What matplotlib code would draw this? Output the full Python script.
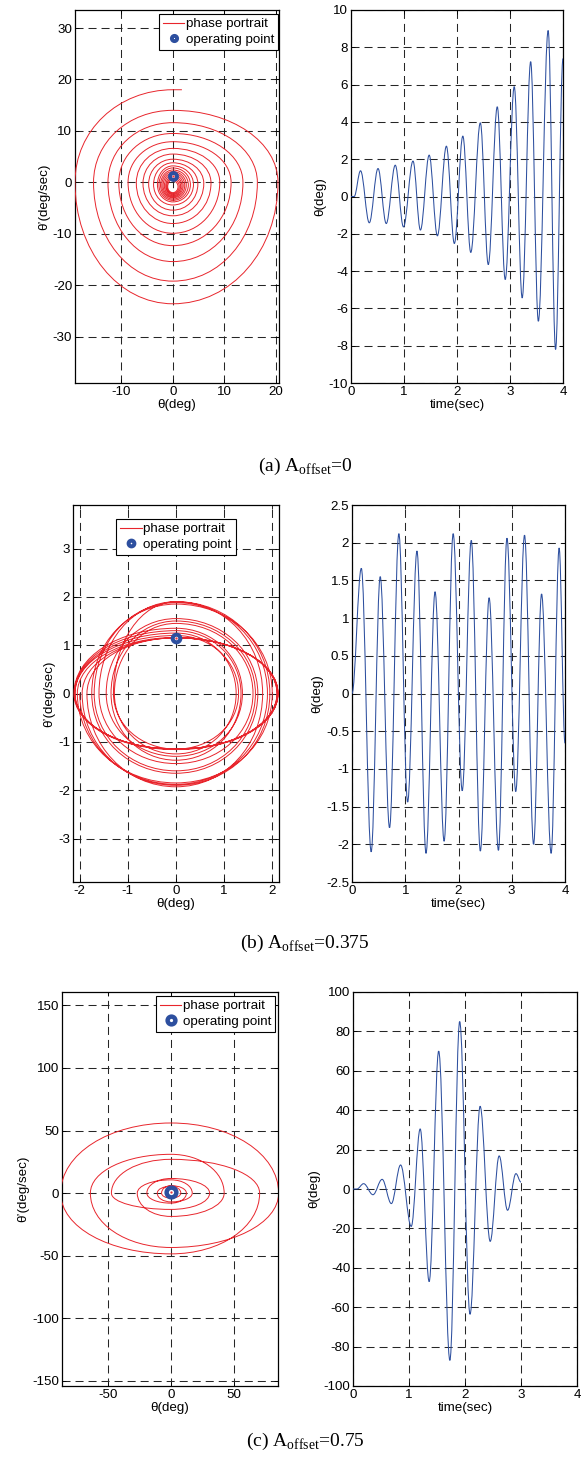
import numpy as np
import matplotlib.pyplot as plt
from matplotlib.path import Path
from matplotlib.patches import PathPatch
from matplotlib.lines import Line2D
from matplotlib.ticker import FuncFormatter, MultipleLocator

plt.rcParams['font.family'] = ['Liberation Sans', 'DejaVu Sans']
plt.rcParams['font.size'] = 9.6

RED = '#e8252c'
BLUE = '#2d4f9f'

# ============================================================
# Data
# ============================================================

# operating point (theta, theta')
OP_POINT = (0.0, 1.15)

# (a) A_offset = 0 : phase portrait loops, inner -> outer
A_TOP = [0.3, 0.6, 0.9, 1.2, 1.5, 1.8, 2.1, 2.4, 2.8, 3.2, 3.8, 4.5, 5.5, 6.6, 7.9, 9.5, 11.6, 14.0]
A_RIGHT = [1.0, 1.25, 1.5, 1.75, 2.0, 2.3, 2.6, 3.0, 3.4, 4.0, 4.85, 6.0, 7.4, 9.1, 11.3, 13.6, 16.4, 20.4]
A_BOTTOM = [-2.0, -2.2, -2.4, -2.6, -2.8, -3.0, -3.25, -3.5, -3.8, -4.4, -5.4, -6.5, -8.0, -9.9, -12.3, -15.4, -19.2, -23.6]
A_LEFT = [-1.0, -1.2, -1.4, -1.65, -1.9, -2.15, -2.4, -2.7, -3.0, -3.75, -4.7, -5.8, -7.1, -8.7, -10.5, -12.6, -15.4, -19.0]
A_MID = [-0.85, -0.8, -0.75, -0.7, -0.65, -0.6, -0.55, -0.5, -0.45, -0.4, -0.3, -0.2, -0.1, 0, 0, 0, 0, 0]
A_END_TOP = 18.0
A_END_X = 1.75

# (a) time response: extrema
A_T = [0, 0.06, 0.18, 0.345, 0.51, 0.665, 0.835, 0.99, 1.17, 1.31, 1.475, 1.63, 1.80, 1.95,
       2.11, 2.26, 2.44, 2.59, 2.76, 2.91, 3.08, 3.23, 3.39, 3.535, 3.72, 3.86, 4.0]
A_THETA = [0, 0, 1.38, -1.41, 1.5, -1.45, 1.68, -1.63, 1.9, -1.8, 2.22, -2.11, 2.7, -2.52,
           3.24, -3.0, 3.95, -3.65, 4.81, -4.45, 5.89, -5.44, 7.23, -6.69, 8.9, -8.2, 7.4]

# (b) A_offset = 0.375 : phase portrait loops
B_TOP = [1.15, 1.2, 1.9, 1.15, 1.35, 1.55, 1.85, 1.16, 1.25, 1.45, 1.9, 1.15, 1.3, 1.5, 1.88]
B_RIGHT = [2.1, 1.3, 1.95, 2.12, 1.38, 1.7, 2.0, 2.1, 1.25, 1.6, 1.8, 2.12, 1.35, 1.65, 1.9]
B_BOTTOM = [-1.15, -1.15, -1.9, -1.16, -1.3, -1.65, -1.85, -1.15, -1.25, -1.45, -1.93, -1.15, -1.38, -1.6, -1.88]
B_LEFT = [-2.1, -1.3, -1.95, -2.12, -1.45, -1.75, -2.05, -2.1, -1.28, -1.6, -1.85, -2.11, -1.35, -1.7, -2.0]

# (b) time response: extrema
B_T = [0, 0.175, 0.36, 0.53, 0.705, 0.88, 1.045, 1.22, 1.39, 1.56, 1.73, 1.90, 2.07,
       2.24, 2.41, 2.575, 2.75, 2.91, 3.075, 3.24, 3.41, 3.56, 3.74, 3.89, 4.0]
B_THETA = [0, 1.66, -2.1, 1.55, -1.78, 2.12, -1.44, 1.89, -2.12, 1.35, -1.96, 2.12, -1.29,
           2.03, -2.09, 1.27, -2.08, 2.06, -1.3, 2.10, -2.0, 1.32, -2.12, 1.93, -0.66]

# (c) A_offset = 0.75 : phase portrait, theta extremes and rate extremes in between
C_THETA_EXT = [2.7, -2.9, 4.9, -7.4, 12.2, -19, 30.5, -47, 70, -87, 85, -63.6, 42, -26.6, 16.8, -10.8, 7.8]
C_RATE_EXT = [1.5, -2.5, 3, -4, 6, -8, 11.7, -13, 27, -48.5, 56, -43.4, 31, -18.6, 10.6, -7, 5.5, -4]

# (c) time response: extrema
C_T = [0, 0.07, 0.19, 0.357, 0.52, 0.685, 0.85, 1.04, 1.2, 1.36, 1.53, 1.73, 1.905,
       2.09, 2.27, 2.45, 2.61, 2.76, 2.91, 3.0]
C_THETA = [0, 0, 2.7, -2.9, 4.9, -7.4, 12.2, -19, 30.5, -47, 70, -87, 85,
           -63.6, 42, -26.6, 16.8, -10.8, 7.8, 3.5]

CAPTIONS = [r'(a) A$_{\mathregular{offset}}$=0',
            r'(b) A$_{\mathregular{offset}}$=0.375',
            r'(c) A$_{\mathregular{offset}}$=0.75']


# ============================================================
# Helpers
# ============================================================

K_ARC = 0.56     # bezier handle for quarter ellipse arcs
K_WAVE = 0.363   # bezier handle for half sine waves


def phase_path(xs, ys, on_x):
    # on_x: vertex is a theta-extreme (vertical tangent), else rate-extreme
    verts = [(xs[0], ys[0])]
    codes = [Path.MOVETO]
    for i in range(1, len(xs)):
        x0, y0, x1, y1 = xs[i - 1], ys[i - 1], xs[i], ys[i]
        c1 = (x0, y0 + K_ARC * (y1 - y0)) if on_x[i - 1] else (x0 + K_ARC * (x1 - x0), y0)
        c2 = (x1, y1 + K_ARC * (y0 - y1)) if on_x[i] else (x1 + K_ARC * (x0 - x1), y1)
        verts += [c1, c2, (x1, y1)]
        codes += [Path.CURVE4] * 3
    return verts, codes


def loops_to_vertices(tops, rights, bottoms, lefts, mids=None):
    xs, ys, on_x = [], [], []
    for k in range(len(tops)):
        m = 0.0 if mids is None else mids[k]
        xs += [0.0, rights[k], 0.0, lefts[k]]
        ys += [tops[k], m, bottoms[k], m]
        on_x += [False, True, False, True]
    return xs, ys, on_x


def wave_path(ts, vs):
    verts = [(ts[0], vs[0])]
    codes = [Path.MOVETO]
    for i in range(1, len(ts)):
        dt = ts[i] - ts[i - 1]
        verts += [(ts[i - 1] + K_WAVE * dt, vs[i - 1]), (ts[i] - K_WAVE * dt, vs[i]), (ts[i], vs[i])]
        codes += [Path.CURVE4] * 3
    return Path(verts, codes)


def style_axes(ax):
    ax.grid(True, linestyle=(0, (7.7, 4.8)), color='0.15', linewidth=0.75)
    ax.set_axisbelow(True)
    ax.tick_params(direction='in', length=3, width=0.6, pad=2, top=True, right=True)
    ax.yaxis.set_major_formatter(FuncFormatter(lambda v, p: '%g' % v))
    ax.xaxis.set_major_formatter(FuncFormatter(lambda v, p: '%g' % v))
    for s in ax.spines.values():
        s.set_linewidth(0.9)


def draw_phase(ax, path, ms, mew, legend_loc, anchor, mscale):
    ax.add_patch(PathPatch(path, facecolor='none', edgecolor=RED, linewidth=0.7, zorder=3))
    op, = ax.plot([OP_POINT[0]], [OP_POINT[1]], 'o', ms=ms, mfc='white', mec=BLUE, mew=mew, zorder=4)
    ax.plot([OP_POINT[0]], [OP_POINT[1]], '.', ms=1.2, color=RED, zorder=5)
    handles = [Line2D([], [], color=RED, linewidth=0.8), op]
    leg = ax.legend(handles, ['phase portrait', 'operating point'], loc=legend_loc,
                    bbox_to_anchor=anchor, borderaxespad=0, fancybox=False, framealpha=1,
                    edgecolor='black', handlelength=1.6, handletextpad=0.1, borderpad=0.3,
                    labelspacing=0.25, markerscale=mscale, fontsize=9.6)
    leg.get_frame().set_linewidth(0.8)
    ax.set_xlabel('θ(deg)', labelpad=1)
    ax.set_ylabel('θ’(deg/sec)', labelpad=2)
    style_axes(ax)


def draw_time(ax, ts, vs, ylim, ystep):
    ax.add_patch(PathPatch(wave_path(ts, vs), facecolor='none', edgecolor=BLUE, linewidth=0.75, zorder=3))
    ax.set_xlim(0, 4)
    ax.set_ylim(*ylim)
    ax.xaxis.set_major_locator(MultipleLocator(1))
    ax.yaxis.set_major_locator(MultipleLocator(ystep))
    ax.set_xlabel('time(sec)', labelpad=1)
    ax.set_ylabel('θ(deg)', labelpad=2)
    style_axes(ax)


# ============================================================
# Figure
# ============================================================

W, H = 581, 1468
fig = plt.figure(figsize=(W / 100, H / 100), dpi=100)


def add_ax(x0, y0, x1, y1):
    return fig.add_axes([x0 / W, 1 - y1 / H, (x1 - x0) / W, (y1 - y0) / H])


# ---- (a)
ax = add_ax(75, 10, 279, 383)
xs, ys, on_x = loops_to_vertices(A_TOP, A_RIGHT, A_BOTTOM, A_LEFT, A_MID)
xs.append(0.0); ys.append(A_END_TOP); on_x.append(False)
verts, codes = phase_path(xs, ys, on_x)
verts.append((A_END_X, A_END_TOP)); codes.append(Path.LINETO)
ax.set_xlim(-19.0, 20.6)
ax.set_ylim(-39.0, 33.5)
ax.xaxis.set_major_locator(MultipleLocator(10))
ax.yaxis.set_major_locator(MultipleLocator(10))
draw_phase(ax, Path(verts, codes), 5, 2.8, 'upper right', (0.995, 0.989), 0.75)

ax = add_ax(351, 10, 563, 383)
draw_time(ax, A_T, A_THETA, (-10, 10), 2)

# ---- (b)
ax = add_ax(73, 505, 279, 882)
xs, ys, on_x = loops_to_vertices(B_TOP, B_RIGHT, B_BOTTOM, B_LEFT)
verts, codes = phase_path(xs, ys, on_x)
ax.set_xlim(-2.14, 2.14)
ax.set_ylim(-3.9, 3.9)
ax.xaxis.set_major_locator(MultipleLocator(1))
ax.yaxis.set_major_locator(MultipleLocator(1))
draw_phase(ax, Path(verts, codes), 5.5, 2.9, 'upper center', (0.5, 0.963), 0.75)

ax = add_ax(352, 505, 565, 882)
draw_time(ax, B_T, B_THETA, (-2.5, 2.5), 0.5)

# ---- (c)
ax = add_ax(62, 992, 278, 1386)
xs, ys, on_x = [0.0], [C_RATE_EXT[0]], [False]
for th, rt in zip(C_THETA_EXT, C_RATE_EXT[1:]):
    xs += [th, 0.0]
    ys += [0.0, rt]
    on_x += [True, False]
verts, codes = phase_path(xs, ys, on_x)
ax.set_xlim(-86, 84.5)
ax.set_ylim(-154, 160.6)
ax.xaxis.set_major_locator(MultipleLocator(50))
ax.yaxis.set_major_locator(MultipleLocator(50))
draw_phase(ax, Path(verts, codes), 7, 3.2, 'upper right', (0.986, 0.99), 0.8)

ax = add_ax(353, 992, 577, 1386)
draw_time(ax, C_T, C_THETA, (-100, 100), 20)

# ---- captions
for cap, yc in zip(CAPTIONS, [466, 943, 1441]):
    fig.text(305 / W, 1 - yc / H, cap, ha='center', va='center',
             family=['Liberation Serif', 'DejaVu Serif'], fontsize=14)

fig.savefig('out.png', dpi=100)
